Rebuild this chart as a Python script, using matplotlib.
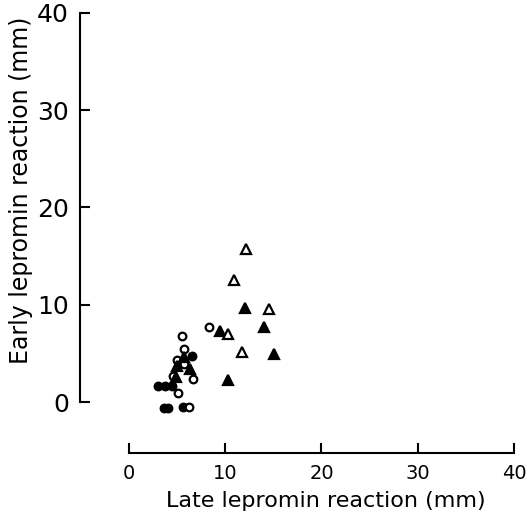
import numpy as np
import matplotlib
matplotlib.use('Agg')
import matplotlib.pyplot as plt

# late (x) / early (y) lepromin reaction, mm
fc_x = [6.5, 3.0, 3.7, 4.5, 3.6, 4.1, 5.6]
fc_y = [4.7, 1.6, 1.6, 1.6, -0.6, -0.6, -0.5]

oc_x = [5.5, 5.7, 5.0, 5.7, 6.7, 4.6, 5.1, 6.2, 8.3]
oc_y = [6.8, 5.5, 4.3, 3.9, 2.4, 2.7, 0.9, -0.5, 7.7]

ft_x = [5.0, 5.7, 6.3, 4.9, 9.5, 10.3, 12.1, 14.0, 15.1]
ft_y = [3.7, 4.6, 3.4, 2.6, 7.3, 2.3, 9.7, 7.7, 4.9]

ot_x = [10.3, 12.2, 10.9, 14.5, 11.7]
ot_y = [7.0, 15.7, 12.5, 9.6, 5.1]

fig = plt.figure(figsize=(5.3, 5.19), dpi=100)
ax = fig.add_axes([0.2434, 0.2254, 0.7264, 0.7496])

kw = dict(linestyle='none', clip_on=False, markeredgecolor='black', markeredgewidth=1.6)
ax.plot(fc_x, fc_y, marker='o', markersize=5.5, markerfacecolor='black', **kw)
ax.plot(oc_x, oc_y, marker='o', markersize=5.5, markerfacecolor='white', **kw)
ax.plot(ft_x, ft_y, marker='^', markersize=6.5, markerfacecolor='black', **kw)
ax.plot(ot_x, ot_y, marker='^', markersize=6.5, markerfacecolor='white', **kw)

ax.set_xlim(0, 40)
ax.set_ylim(0, 40)
ax.set_xticks([0, 10, 20, 30, 40])
ax.set_yticks([0, 10, 20, 30, 40])

for s in ['top', 'right']:
    ax.spines[s].set_visible(False)
# offsets in points (49 px and 51 px at 100 dpi)
ax.spines['left'].set_position(('outward', 49 * 0.72))
ax.spines['bottom'].set_position(('outward', 51 * 0.72))
ax.spines['left'].set_bounds(0, 40)
ax.spines['bottom'].set_bounds(0, 40)
ax.spines['left'].set_linewidth(1.5)
ax.spines['bottom'].set_linewidth(1.5)

ax.tick_params(direction='in', length=7, width=1.5)
ax.tick_params(axis='x', labelsize=14, pad=8)
ax.tick_params(axis='y', labelsize=18, pad=8)

ax.set_xlabel('Late lepromin reaction (mm)', fontsize=16)
ax.set_ylabel('Early lepromin reaction (mm)', fontsize=17)
ax.xaxis.set_label_coords(0.512, -0.229)
ax.yaxis.set_label_coords(-0.25, 0.545)

plt.savefig('out.png', dpi=100)
